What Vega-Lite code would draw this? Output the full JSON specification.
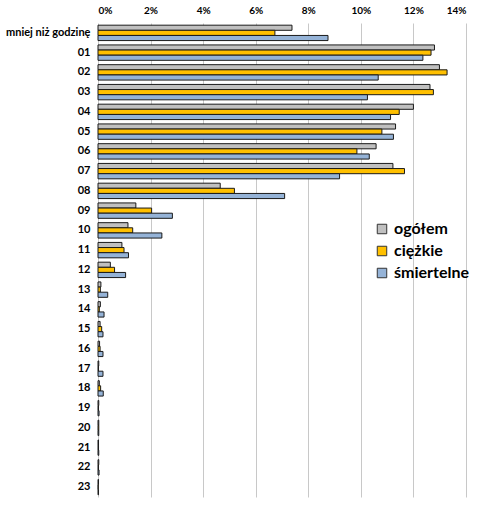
{
  "$schema": "https://vega.github.io/schema/vega-lite/v6.json",
  "width": 368,
  "height": 474,
  "autosize": "none",
  "padding": {"left": 98, "top": 23, "right": 13, "bottom": 9},
  "background": "white",
  "config": {
    "view": {"stroke": null},
    "font": "Lato"
  },
  "data": {
    "values": [
      {"godzina": "mniej niż godzinę", "typ": "ogółem", "v": 7.38},
      {"godzina": "mniej niż godzinę", "typ": "ciężkie", "v": 6.73},
      {"godzina": "mniej niż godzinę", "typ": "śmiertelne", "v": 8.75},
      {"godzina": "01", "typ": "ogółem", "v": 12.80},
      {"godzina": "01", "typ": "ciężkie", "v": 12.67},
      {"godzina": "01", "typ": "śmiertelne", "v": 12.36},
      {"godzina": "02", "typ": "ogółem", "v": 12.99},
      {"godzina": "02", "typ": "ciężkie", "v": 13.28},
      {"godzina": "02", "typ": "śmiertelne", "v": 10.66},
      {"godzina": "03", "typ": "ogółem", "v": 12.63},
      {"godzina": "03", "typ": "ciężkie", "v": 12.76},
      {"godzina": "03", "typ": "śmiertelne", "v": 10.25},
      {"godzina": "04", "typ": "ogółem", "v": 12.00},
      {"godzina": "04", "typ": "ciężkie", "v": 11.46},
      {"godzina": "04", "typ": "śmiertelne", "v": 11.13},
      {"godzina": "05", "typ": "ogółem", "v": 11.32},
      {"godzina": "05", "typ": "ciężkie", "v": 10.80},
      {"godzina": "05", "typ": "śmiertelne", "v": 11.24},
      {"godzina": "06", "typ": "ogółem", "v": 10.58},
      {"godzina": "06", "typ": "ciężkie", "v": 9.85},
      {"godzina": "06", "typ": "śmiertelne", "v": 10.32},
      {"godzina": "07", "typ": "ogółem", "v": 11.22},
      {"godzina": "07", "typ": "ciężkie", "v": 11.66},
      {"godzina": "07", "typ": "śmiertelne", "v": 9.19},
      {"godzina": "08", "typ": "ogółem", "v": 4.65},
      {"godzina": "08", "typ": "ciężkie", "v": 5.19},
      {"godzina": "08", "typ": "śmiertelne", "v": 7.10},
      {"godzina": "09", "typ": "ogółem", "v": 1.44},
      {"godzina": "09", "typ": "ciężkie", "v": 2.04},
      {"godzina": "09", "typ": "śmiertelne", "v": 2.83},
      {"godzina": "10", "typ": "ogółem", "v": 1.14},
      {"godzina": "10", "typ": "ciężkie", "v": 1.32},
      {"godzina": "10", "typ": "śmiertelne", "v": 2.43},
      {"godzina": "11", "typ": "ogółem", "v": 0.91},
      {"godzina": "11", "typ": "ciężkie", "v": 0.99},
      {"godzina": "11", "typ": "śmiertelne", "v": 1.16},
      {"godzina": "12", "typ": "ogółem", "v": 0.47},
      {"godzina": "12", "typ": "ciężkie", "v": 0.63},
      {"godzina": "12", "typ": "śmiertelne", "v": 1.05},
      {"godzina": "13", "typ": "ogółem", "v": 0.11},
      {"godzina": "13", "typ": "ciężkie", "v": 0.09},
      {"godzina": "13", "typ": "śmiertelne", "v": 0.37},
      {"godzina": "14", "typ": "ogółem", "v": 0.09},
      {"godzina": "14", "typ": "ciężkie", "v": 0.05},
      {"godzina": "14", "typ": "śmiertelne", "v": 0.23},
      {"godzina": "15", "typ": "ogółem", "v": 0.08},
      {"godzina": "15", "typ": "ciężkie", "v": 0.14},
      {"godzina": "15", "typ": "śmiertelne", "v": 0.19},
      {"godzina": "16", "typ": "ogółem", "v": 0.06},
      {"godzina": "16", "typ": "ciężkie", "v": 0.08},
      {"godzina": "16", "typ": "śmiertelne", "v": 0.19},
      {"godzina": "17", "typ": "ogółem", "v": 0.03},
      {"godzina": "17", "typ": "ciężkie", "v": 0.02},
      {"godzina": "17", "typ": "śmiertelne", "v": 0.19},
      {"godzina": "18", "typ": "ogółem", "v": 0.05},
      {"godzina": "18", "typ": "ciężkie", "v": 0.10},
      {"godzina": "18", "typ": "śmiertelne", "v": 0.20},
      {"godzina": "19", "typ": "ogółem", "v": 0.03},
      {"godzina": "19", "typ": "ciężkie", "v": 0.02},
      {"godzina": "19", "typ": "śmiertelne", "v": 0.04},
      {"godzina": "20", "typ": "ogółem", "v": 0.03},
      {"godzina": "20", "typ": "ciężkie", "v": 0.03},
      {"godzina": "20", "typ": "śmiertelne", "v": 0.03},
      {"godzina": "21", "typ": "ogółem", "v": 0.02},
      {"godzina": "21", "typ": "ciężkie", "v": 0.02},
      {"godzina": "21", "typ": "śmiertelne", "v": 0.03},
      {"godzina": "22", "typ": "ogółem", "v": 0.03},
      {"godzina": "22", "typ": "ciężkie", "v": 0.02},
      {"godzina": "22", "typ": "śmiertelne", "v": 0.04},
      {"godzina": "23", "typ": "ogółem", "v": 0.02},
      {"godzina": "23", "typ": "ciężkie", "v": 0.01},
      {"godzina": "23", "typ": "śmiertelne", "v": 0.02}
    ]
  },
  "mark": {"type": "bar", "stroke": "#1a1a1a", "strokeWidth": 1},
  "encoding": {
    "y": {
      "field": "godzina",
      "type": "nominal",
      "sort": null,
      "scale": {"paddingInner": 0.22, "paddingOuter": 0.11},
      "axis": {
        "title": null,
        "ticks": false,
        "domain": false,
        "labelFontWeight": "bold",
        "labelFontSize": 11,
        "labelColor": "#000",
        "labelPadding": 8
      }
    },
    "yOffset": {
      "field": "typ",
      "type": "nominal",
      "sort": ["ogółem", "ciężkie", "śmiertelne"],
      "scale": {"paddingInner": 0}
    },
    "x": {
      "field": "v",
      "type": "quantitative",
      "scale": {"domain": [0, 14], "nice": false},
      "axis": {
        "orient": "top",
        "title": null,
        "values": [0, 2, 4, 6, 8, 10, 12, 14],
        "labelExpr": "datum.value + '%'",
        "ticks": false,
        "domain": false,
        "grid": true,
        "gridColor": "#c8c8c8",
        "gridWidth": 1,
        "labelFontWeight": "bold",
        "labelFontSize": 10,
        "labelColor": "#000",
        "labelPadding": 8
      }
    },
    "color": {
      "field": "typ",
      "type": "nominal",
      "sort": ["ogółem", "ciężkie", "śmiertelne"],
      "scale": {
        "domain": ["ogółem", "ciężkie", "śmiertelne"],
        "range": ["#c0c0c0", "#ffc000", "#95b3d7"]
      },
      "legend": {
        "title": null,
        "orient": "none",
        "legendX": 276,
        "legendY": 198,
        "symbolType": "square",
        "symbolSize": 90,
        "symbolStrokeColor": "#333",
        "symbolStrokeWidth": 1,
        "labelFontSize": 16,
        "labelFontWeight": "bold",
        "labelColor": "#000",
        "rowPadding": 6,
        "labelOffset": 4
      }
    }
  }
}
